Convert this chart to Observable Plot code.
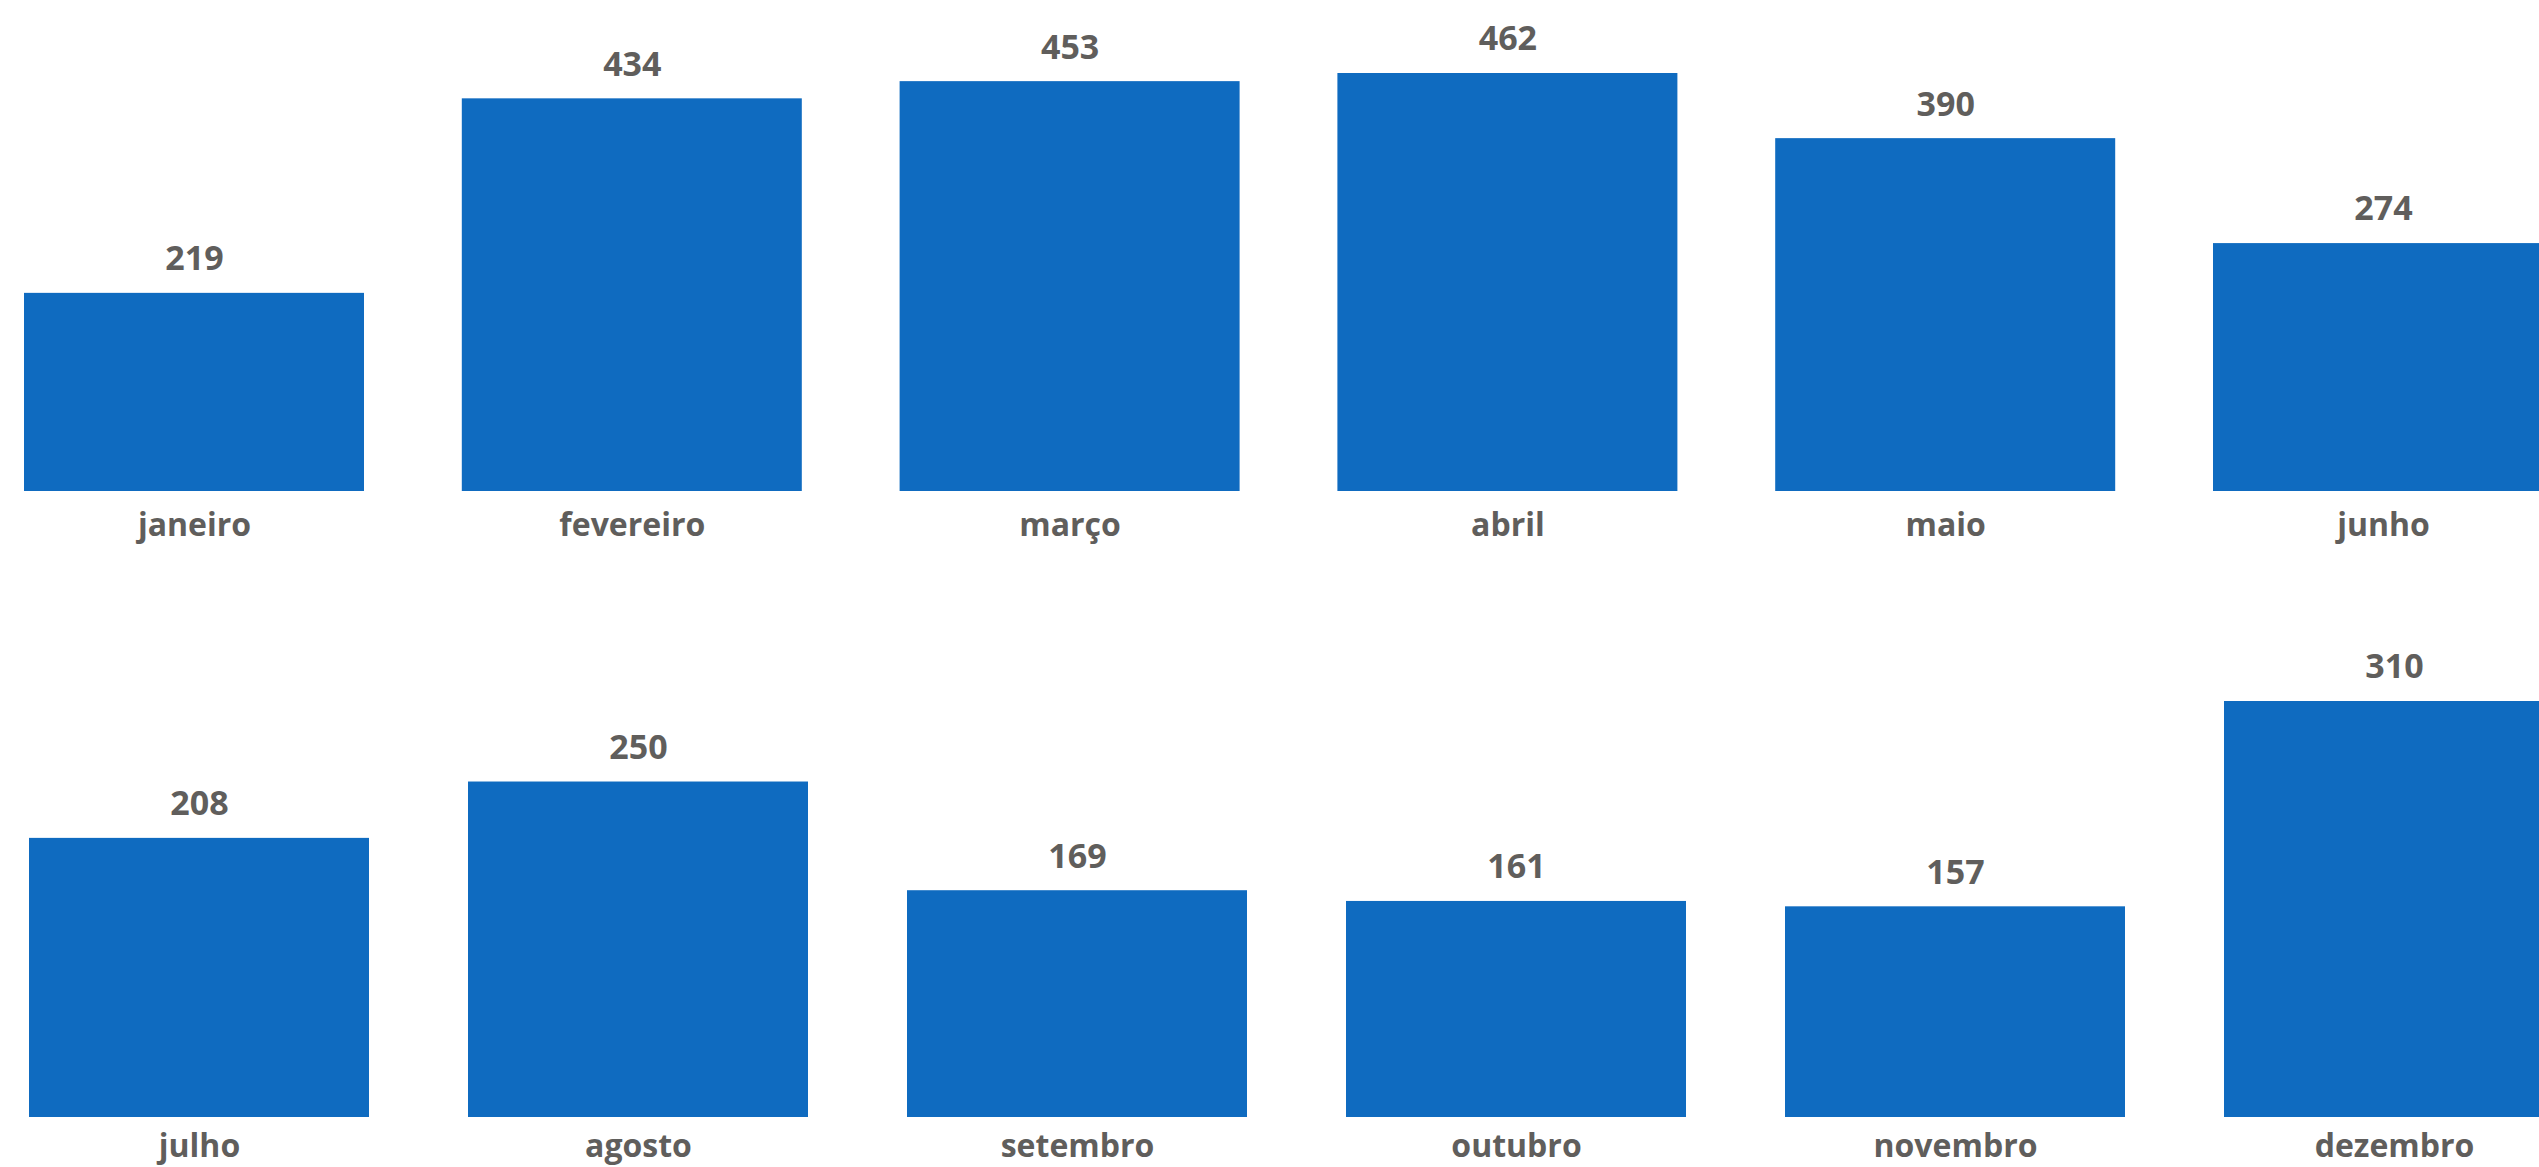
<!DOCTYPE html>
<html>
<head>
<meta charset="utf-8">
<script src="https://cdn.jsdelivr.net/npm/d3@7"></script>
<script src="https://cdn.jsdelivr.net/npm/@observablehq/plot@0.6"></script>
<style>
  html, body { margin: 0; padding: 0; overflow: hidden; background: #fff; width: 2539px; height: 1167px; }
  #row1, #row2 { position: absolute; left: 0; width: 2600px; }
  #row1 { top: 0; }
  #row2 { top: 626px; }
  svg { display: block; max-width: none !important; }
</style>
</head>
<body>
<div id="row1"></div>
<div id="row2"></div>
<script>
const monthsRow1 = ["janeiro", "fevereiro", "março", "abril", "maio", "junho"];
const valuesRow1 = [219, 434, 453, 462, 390, 274];
const monthsRow2 = ["julho", "agosto", "setembro", "outubro", "novembro", "dezembro"];
const valuesRow2 = [208, 250, 169, 161, 157, 310];

const barColor = "#0F6BC0";
const textColor = "#605E5C";
const fontFamily = "'Open Sans', 'Noto Sans', sans-serif";

function rowChart(months, values, marginLeft, step, marginTop, tickPadding) {
  const data = months.map((m, i) => ({month: m, value: values[i]}));
  const pad = 1 - 340 / step;
  const width = Math.round(marginLeft + step * (months.length - pad));
  return Plot.plot({
    width,
    height: 627,
    marginLeft,
    marginRight: 0,
    marginTop,
    marginBottom: 136,
    style: {fontFamily, color: textColor, background: "#fff", overflow: "visible", maxWidth: "none"},
    x: {domain: months, paddingInner: pad, paddingOuter: 0, align: 0, round: false, label: null},
    y: {domain: [0, d3.max(values)], axis: null},
    marks: [
      Plot.barY(data, {x: "month", y: "value", fill: barColor}),
      Plot.text(data, {
        x: "month", y: "value", text: d => String(d.value),
        dy: -34, fontSize: 34, fontWeight: 700, fill: textColor
      }),
      Plot.axisX({tickSize: 0, tickPadding, fontSize: 32, fontWeight: 700, label: null, fill: textColor})
    ]
  });
}

document.getElementById("row1").appendChild(rowChart(monthsRow1, valuesRow1, 24, 437.8, 73, 22));
document.getElementById("row2").appendChild(rowChart(monthsRow2, valuesRow2, 29, 439, 75, 17));
</script>
</body>
</html>
